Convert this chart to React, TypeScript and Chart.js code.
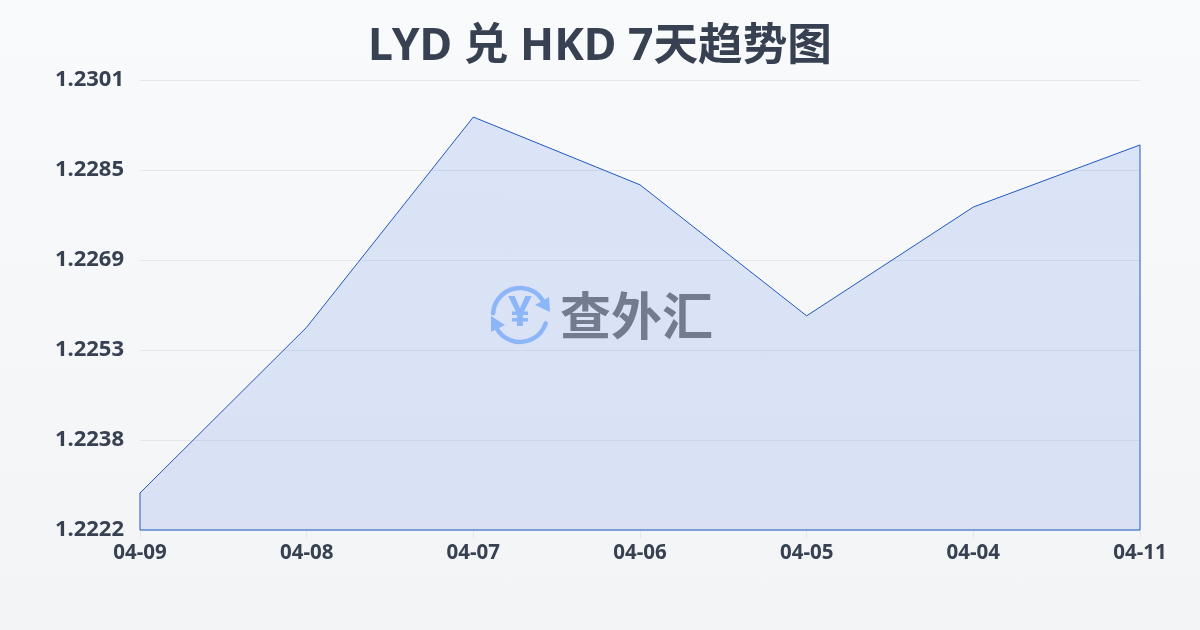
import React, { useEffect, useRef } from "react";
import { Chart, registerables } from "chart.js";

Chart.register(...registerables);

const categories = ["04-09", "04-08", "04-07", "04-06", "04-05", "04-04", "04-11"];
const rates = [1.22285, 1.22576, 1.22945, 1.22826, 1.22596, 1.22787, 1.22896];
const tickLabels = ["1.2222", "1.2238", "1.2253", "1.2269", "1.2285", "1.2301"];
const yMin = 1.2222;
const yMax = 1.2301;
const titleText = "LYD 兑 HKD 7天趋势图";
const watermarkText = "查外汇";
const FONT = '"Noto Sans", "Noto Sans CJK SC", sans-serif';
const LINE = "#2058c0";

const outlinePlugin = {
  id: "outline",
  afterDatasetsDraw(chart: any) {
    const pts = chart.getDatasetMeta(0).data;
    const { ctx, chartArea } = chart;
    const first = pts[0];
    const last = pts[pts.length - 1];
    ctx.save();
    ctx.strokeStyle = LINE;
    ctx.lineWidth = 1;
    ctx.beginPath();
    ctx.moveTo(first.x, first.y);
    ctx.lineTo(first.x, chartArea.bottom);
    ctx.lineTo(last.x, chartArea.bottom);
    ctx.lineTo(last.x, last.y);
    ctx.stroke();
    ctx.restore();
  },
};

const watermarkPlugin = {
  id: "watermark",
  afterDraw(chart: any) {
    const { ctx } = chart;
    const cx = 520;
    const cy = 315;
    const r = 27;
    const blue = "#8cb6f7";
    ctx.save();
    ctx.strokeStyle = blue;
    ctx.fillStyle = blue;
    ctx.lineWidth = 4.5;
    ctx.lineCap = "round";
    ctx.beginPath();
    ctx.arc(cx, cy, r, Math.PI * 1.02, Math.PI * 1.82);
    ctx.stroke();
    ctx.beginPath();
    ctx.arc(cx, cy, r, Math.PI * 0.1, Math.PI * 0.85);
    ctx.stroke();
    ctx.beginPath();
    ctx.moveTo(549, 297);
    ctx.lineTo(550, 312);
    ctx.lineTo(535, 305);
    ctx.closePath();
    ctx.fill();
    ctx.beginPath();
    ctx.moveTo(491, 316);
    ctx.lineTo(491, 332);
    ctx.lineTo(505, 325);
    ctx.closePath();
    ctx.fill();
    ctx.font = `bold 42px ${FONT}`;
    ctx.textAlign = "center";
    ctx.textBaseline = "middle";
    ctx.fillText("¥", cx, cy - 1);
    ctx.fillStyle = "#737c8f";
    ctx.textAlign = "left";
    ctx.font = 'bold 51px "Noto Sans CJK SC", sans-serif';
    ctx.fillText(watermarkText, 560, 316);
    ctx.restore();
  },
};

export default function App() {
  const ref = useRef<HTMLCanvasElement>(null);
  useEffect(() => {
    document.body.style.margin = "0";
    const chart = new Chart(ref.current!, {
      type: "line",
      data: {
        labels: categories,
        datasets: [
          {
            data: rates,
            yAxisID: "y",
            borderColor: LINE,
            borderWidth: 1,
            pointRadius: 0,
            tension: 0,
            fill: "start",
            backgroundColor: (c: any) => {
              const a = c.chart.chartArea;
              if (!a) return "rgba(59,130,246,0.15)";
              const g = c.chart.ctx.createLinearGradient(0, a.top, 0, a.bottom);
              g.addColorStop(0, "rgba(37,99,235,0.14)");
              g.addColorStop(1, "rgba(37,85,225,0.125)");
              return g;
            },
          },
        ],
      },
      options: {
        responsive: false,
        animation: false,
        layout: { padding: { left: 40, right: 40, top: 0, bottom: 0 } },
        plugins: {
          legend: { display: false },
          tooltip: { enabled: false },
          title: {
            display: true,
            text: titleText,
            color: "#374151",
            font: { family: FONT, size: 44.6, weight: "bold" },
            padding: { top: 21, bottom: 5.5 },
          },
        },
        scales: {
          x: {
            grid: { drawOnChartArea: false, color: "#e5e7eb", tickLength: 8 },
            border: { display: false },
            offset: false,
            ticks: {
              color: "#374151",
              font: { family: FONT, size: 20.5, weight: "bold" },
              maxRotation: 0,
              autoSkip: false,
              padding: 3,
            },
            afterFit: (s: any) => {
              s.height = 100;
            },
          },
          y: {
            min: yMin,
            max: yMax,
            grid: { color: "#e5e7eb", tickLength: 0 },
            border: { display: false },
            afterBuildTicks: (s: any) => {
              s.ticks = tickLabels.map((_, i) => ({
                value: yMin + ((yMax - yMin) * i) / (tickLabels.length - 1),
              }));
            },
            ticks: {
              color: "#374151",
              font: { family: FONT, size: 22, weight: "bold" },
              padding: 16,
              callback: (_v: any, i: number) => tickLabels[i],
            },
            afterFit: (s: any) => {
              s.width = 100;
            },
          },
          spacer: {
            position: "right",
            display: true,
            grid: { display: false },
            border: { display: false },
            ticks: { display: false },
            afterFit: (s: any) => {
              s.width = 20;
            },
          },
        },
      },
      plugins: [outlinePlugin, watermarkPlugin],
    } as any);
    return () => chart.destroy();
  }, []);
  return (
    <div style={{ width: 1200, height: 630, background: "linear-gradient(180deg, #f9fafb 0%, #f3f4f6 100%)" }}>
      <canvas ref={ref} width={1200} height={630} style={{ display: "block" }} />
    </div>
  );
}
